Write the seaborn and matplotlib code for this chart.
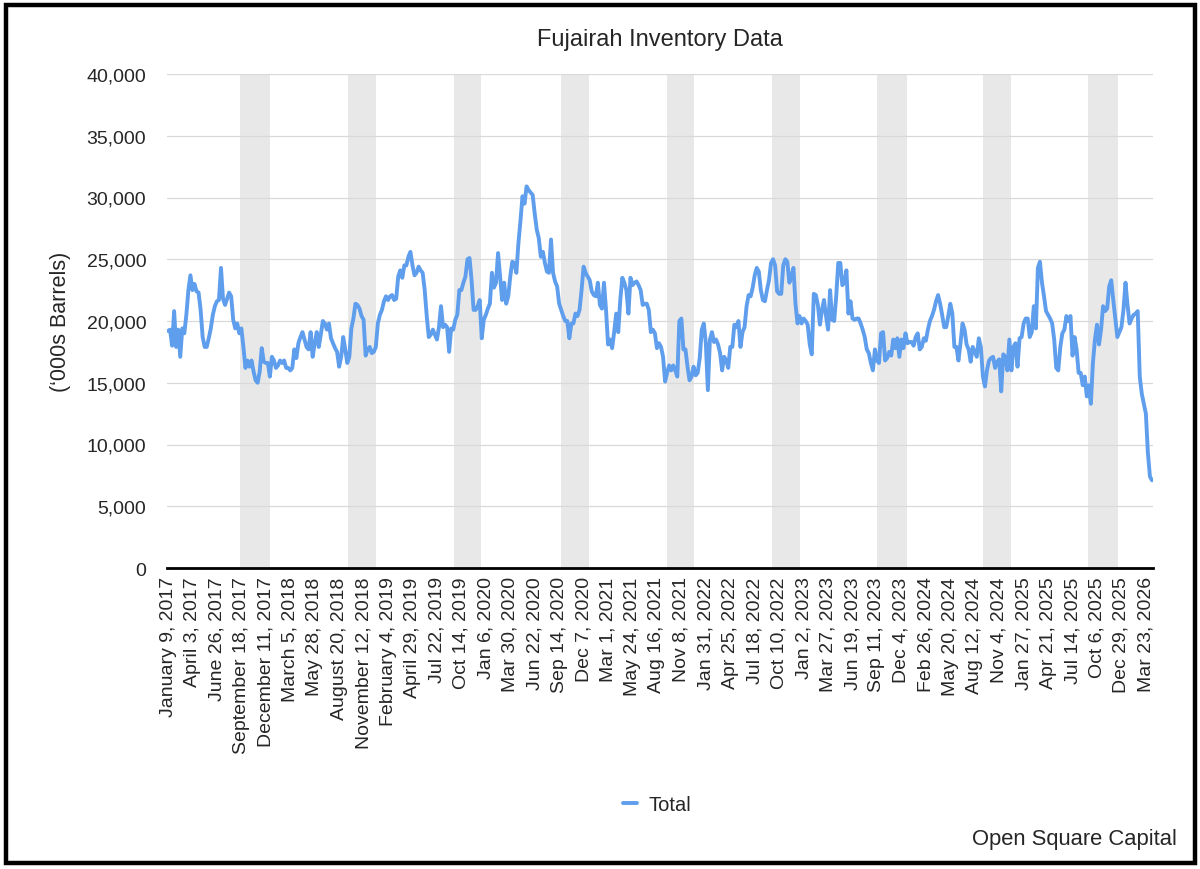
import pandas as pd
import numpy as np
import seaborn as sns
import matplotlib
matplotlib.use("Agg")
import matplotlib.pyplot as plt
from matplotlib import font_manager
from matplotlib.patches import Rectangle
from matplotlib.lines import Line2D

# 1) Datos: inventario semanal ('000s barrels), lunes desde 9 ene 2017
START = "2017-01-09"

inv_2017 = [19200, 19300, 18000, 20800, 17900, 19300, 17100, 19400, 19000, 20500,
            22500, 23700, 22500, 23000, 22400, 22300, 20900, 18700, 17900, 17900,
            18600, 19400, 20500, 21200, 21600, 21700, 24300, 21800, 21300, 21800,
            22300, 22000, 20100, 19400, 19800, 19000, 19400, 17900, 16200, 16800,
            16300, 16800, 15900, 15200, 15000, 15900, 17800, 16700, 16600, 16600,
            15500]
inv_2018 = [17100, 16800, 16200, 16400, 16800, 16600, 16800, 16200, 16200, 16000,
            16200, 17700, 17000, 18200, 18700, 19100, 18500, 17900, 17700, 19100,
            17100, 18200, 19100, 17900, 18900, 20000, 19800, 19300, 19800, 18600,
            18200, 17800, 17500, 16300, 17100, 18700, 17700, 16600, 17100, 19400,
            20200, 21400, 21300, 21000, 20400, 20100, 17200, 17700, 17900, 17400,
            17500, 17900, 19800]
inv_2019 = [20500, 20900, 21600, 22000, 21700, 22000, 22100, 21700, 21800, 23600,
            24100, 23500, 24500, 24500, 25200, 25600, 24500, 23700, 23900, 24400,
            24100, 23900, 22500, 20400, 18700, 18900, 19300, 18900, 18500, 19500,
            21200, 19500, 19700, 19500, 17500, 19400, 19300, 20100, 20500, 22500,
            22500, 23100, 23600, 25000, 25100, 23300, 20900, 20900, 21200, 21700,
            18600, 20100]
inv_2020 = [20500, 21000, 21400, 23900, 22700, 23100, 25500, 23600, 21700, 23100,
            21400, 22000, 23600, 24800, 24700, 23900, 26300, 28100, 30100, 29500,
            30900, 30600, 30400, 30200, 28700, 27400, 26700, 25200, 25600, 24700,
            24000, 23900, 26600, 23900, 23200, 22800, 21400, 20900, 20400, 20000,
            20000, 18600, 19800, 19800, 20600, 20400, 20900, 22500, 24400, 23900,
            23600, 23300]
inv_2021 = [22400, 22100, 22000, 23100, 21300, 21000, 23100, 20900, 18100, 18500,
            17800, 19100, 20600, 19100, 21700, 23500, 23100, 22500, 20600, 23500,
            22900, 23100, 23200, 22900, 22500, 21300, 21400, 21400, 20900, 19100,
            19300, 19000, 17800, 18200, 17900, 17100, 15100, 15800, 16400, 16000,
            16400, 16000, 15500, 20000, 20200, 17700, 17700, 16300, 15200, 15500,
            16300, 15600]
inv_2022 = [15800, 17000, 19300, 19800, 18200, 14400, 18500, 19100, 18300, 18500,
            18100, 17400, 16000, 17100, 16800, 16200, 17900, 17900, 19700, 19500,
            20000, 17900, 19100, 19500, 21200, 22100, 22000, 22700, 23700, 24300,
            24000, 22500, 21700, 21600, 22500, 23300, 24700, 25000, 24500, 22400,
            22200, 22200, 24500, 25000, 24800, 23100, 23600, 24300, 21400, 19800,
            20400, 19800]
inv_2023 = [20200, 20000, 19700, 18100, 17300, 22200, 22100, 21300, 19700, 20900,
            21700, 20400, 19300, 22500, 20100, 20000, 22000, 24700, 24700, 22900,
            23100, 24100, 20600, 21600, 20200, 20100, 20200, 20200, 19800, 19300,
            18700, 17700, 17400, 16600, 16000, 17700, 16800, 16600, 19000, 19100,
            16800, 17000, 17500, 17200, 18500, 17800, 18600, 17100, 18500, 17800,
            19000, 18200]
inv_2024 = [18300, 18300, 18000, 18700, 19000, 17700, 17900, 18600, 18400, 19300,
            20000, 20400, 20900, 21600, 22100, 21400, 20500, 19500, 19500, 20400,
            21400, 20600, 17900, 17900, 16800, 18200, 19800, 19300, 18100, 17700,
            16700, 17900, 17500, 17100, 18600, 17900, 15500, 14700, 16000, 16800,
            17000, 17100, 16200, 16700, 16900, 14300, 17300, 17100, 16000, 18500,
            16000, 17900, 18200]
inv_2025 = [16300, 18600, 18700, 19800, 20200, 20200, 18700, 19100, 21200, 19400,
            24300, 24800, 23100, 22000, 20800, 20500, 20200, 19800, 18500, 16200,
            16000, 17900, 19000, 19300, 20400, 20000, 20400, 17200, 18700, 17700,
            15800, 15800, 14800, 15500, 13900, 14800, 13300, 16600, 18500, 19700,
            18100, 19300, 21200, 20800, 21000, 22800, 23300, 21700, 20200, 18700,
            19100, 19500]
inv_2026 = [20900, 23100, 21300, 19800, 20200, 20500, 20600, 20800, 15500, 14100,
            13300, 12500, 9300, 7400, 7100]

# etiquetas del eje x (cada 12 semanas)
tick_labels = ["January 9, 2017", "April 3, 2017", "June 26, 2017", "September 18, 2017",
               "December 11, 2017", "March 5, 2018", "May 28, 2018", "August 20, 2018",
               "November 12, 2018", "February 4, 2019", "April 29, 2019", "Jul 22, 2019",
               "Oct 14, 2019", "Jan 6, 2020", "Mar 30, 2020", "Jun 22, 2020",
               "Sep 14, 2020", "Dec 7, 2020", "Mar 1, 2021", "May 24, 2021",
               "Aug 16, 2021", "Nov 8, 2021", "Jan 31, 2022", "Apr 25, 2022",
               "Jul 18, 2022", "Oct 10, 2022", "Jan 2, 2023", "Mar 27, 2023",
               "Jun 19, 2023", "Sep 11, 2023", "Dec 4, 2023", "Feb 26, 2024",
               "May 20, 2024", "Aug 12, 2024", "Nov 4, 2024", "Jan 27, 2025",
               "Apr 21, 2025", "Jul 14, 2025", "Oct 6, 2025", "Dec 29, 2025",
               "Mar 23, 2026"]

# bandas grises (aprox. mediados de sep a fin de dic)
shade_start = ["2017-09-13", "2018-09-18", "2019-09-17", "2020-09-19", "2021-09-18",
               "2022-09-14", "2023-09-12", "2024-09-09", "2025-09-06"]
shade_end = ["2017-12-25", "2018-12-24", "2019-12-21", "2020-12-25", "2021-12-22",
             "2022-12-19", "2023-12-24", "2024-12-15", "2025-12-18"]

values = (inv_2017 + inv_2018 + inv_2019 + inv_2020 + inv_2021 + inv_2022
          + inv_2023 + inv_2024 + inv_2025 + inv_2026)
dates = pd.date_range(START, periods=len(values), freq="7D")
df = pd.DataFrame({"week": np.arange(len(values)), "date": dates, "Total": values})

# 2) Estilo
sns.set_style("white")
plt.rcParams["font.family"] = ["Liberation Sans", "DejaVu Sans"]

names = {f.name for f in font_manager.fontManager.ttflist}
if "Liberation Sans Narrow" in names:
    narrow = ["Liberation Sans Narrow", "Liberation Sans"]
    foot_size, leg_size = 18.5, 17
else:
    narrow = ["Liberation Sans", "DejaVu Sans"]
    foot_size, leg_size = 15.8, 14.5

BLUE = "#5f9eec"

fig = plt.figure(figsize=(12, 8.7), dpi=100)
ax = fig.add_axes([167 / 1200, 301 / 870, 986 / 1200, 494 / 870])

# 3) Bandas y linea
start = pd.Timestamp(START)
for s, e in zip(shade_start, shade_end):
    x0 = (pd.Timestamp(s) - start).days / 7
    x1 = (pd.Timestamp(e) - start).days / 7
    ax.axvspan(x0, x1, color="#e8e8e8", lw=0, zorder=0)

sns.lineplot(data=df, x="week", y="Total", ax=ax, color=BLUE, lw=2.8,
             legend=False, zorder=3)

ax.set_xlim(-0.5, len(values) - 0.5)
ax.set_ylim(0, 40000)
ax.set_yticks(np.arange(0, 40001, 5000))
ax.yaxis.set_major_formatter(matplotlib.ticker.FuncFormatter(lambda v, p: f"{v:,.0f}"))
ax.grid(axis="y", color="#d9d9d9", lw=0.9, zorder=1)
ax.set_axisbelow(True)

ax.set_xticks(np.arange(0, len(values), 12))
ax.set_xticklabels(tick_labels, rotation=90)
ax.tick_params(axis="x", length=0, pad=6, labelsize=14)
ax.tick_params(axis="y", length=0, pad=15, labelsize=14)

for side in ["top", "right", "left"]:
    ax.spines[side].set_visible(False)
ax.spines["bottom"].set_color("black")
ax.spines["bottom"].set_linewidth(2)
ax.spines["bottom"].set_zorder(4)

ax.set_xlabel("")
ax.set_ylabel("(\u2018000s Barrels)", fontsize=15.5, labelpad=11)
ax.set_title("Fujairah Inventory Data", fontsize=17, pad=21)

# 4) Leyenda, fuente y marco
handle = Line2D([], [], color=BLUE, lw=2.8)
leg = fig.legend([handle], ["Total"], loc="center", frameon=False,
                 bbox_to_anchor=(657 / 1200, 1 - 806 / 870),
                 handlelength=0.7, handletextpad=0.6,
                 prop={"family": narrow, "size": leg_size})

fig.text(1177 / 1200, 1 - 840 / 870, "Open Square Capital", ha="right", va="center",
         family=narrow, fontsize=foot_size)

fig.patches.append(Rectangle((6 / 1200, 6 / 870), 1189 / 1200, 858 / 870,
                             transform=fig.transFigure, fill=False,
                             edgecolor="black", lw=3.2))

fig.savefig("out.png", dpi=100)
